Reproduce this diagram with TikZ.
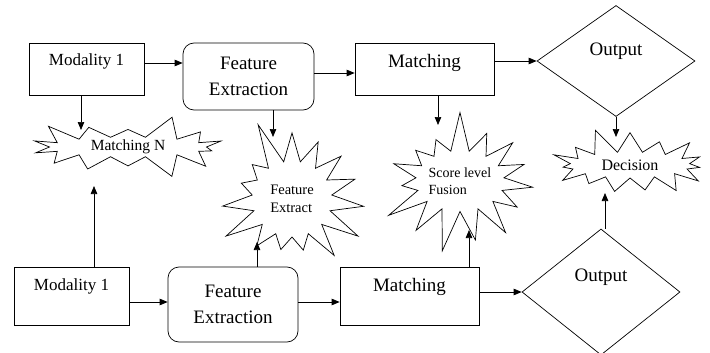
\documentclass[tikz,border=0pt]{standalone}
\usepackage{fontspec}
\setmainfont{Liberation Serif}
\usepackage{tikz}
\usetikzlibrary{shapes.geometric,shapes.symbols,arrows.meta,positioning,calc}

\begin{document}
\begin{tikzpicture}[
    x=1pt, y=-1pt,
    line width=0.7pt,
    modbox/.style={rectangle, draw, minimum width=115pt, inner sep=2pt, font=\fontsize{17}{20}\selectfont},
    featbox/.style={rectangle, draw, rounded corners=11pt, minimum width=131pt, align=center, font=\fontsize{19}{26}\selectfont},
    matchbox/.style={rectangle, draw, minimum width=139pt, inner sep=2pt, font=\fontsize{19}{22}\selectfont},
    outdiamond/.style={diamond, draw, minimum width=158pt, inner sep=1pt, font=\fontsize{19}{22}\selectfont},
    burst/.style={starburst, draw, fill=white, align=left, inner sep=0pt},
    arrow/.style={-{Triangle[length=8pt,width=6.5pt]}}
]
\useasboundingbox (0,0) rectangle (710,353);

% upper chain
\node[modbox, minimum height=52pt, text depth=18pt] (mod1) at (86.5,69) {Modality 1};
\node[featbox, minimum height=67pt] (fe1) at (248.5,76.5) {Feature\\Extraction};
\node[matchbox, minimum height=52pt, text depth=16pt] (match1) at (424.5,69) {Matching};
\node[outdiamond, minimum height=111pt, text depth=24pt] (out1) at (616,61) {Output};

% lower chain
\node[modbox, minimum height=58pt, text depth=22pt] (mod2) at (71.5,296) {Modality 1};
\node[featbox, minimum width=130pt, minimum height=75pt] (fe2) at (233,304.5) {Feature\\Extraction};
\node[matchbox, minimum height=58pt, text depth=22pt] (match2) at (409.5,296) {Matching};
\node[outdiamond, minimum height=126pt, text depth=34pt] (out2) at (601,292) {Output};

% fusion points
\node[burst, minimum width=205pt, minimum height=60pt, starburst points=14, starburst point height=24pt, random starburst=3,
      font=\fontsize{15.5}{18}\selectfont] (matchn) at (128,147) {Matching N};
\node[burst, minimum width=172pt, minimum height=168pt, starburst points=15, starburst point height=46pt, random starburst=5,
      font=\fontsize{14.5}{18}\selectfont] (fext) at (292,199) {Feature\\Extract};
\node[burst, minimum width=172pt, minimum height=145pt, starburst points=15, starburst point height=42pt, random starburst=7,
      font=\fontsize{14}{17}\selectfont] (fusion) at (460,181) {Score level\\Fusion};
\node[burst, minimum width=172pt, minimum height=78pt, starburst points=15, starburst point height=26pt, random starburst=11,
      font=\fontsize{16}{19}\selectfont] (decision) at (630,165) {Decision};

% connectors along the chains
\draw[arrow] ([yshift=6pt]mod1.east) -- ([yshift=6pt]mod1.east -| fe1.west);
\draw[arrow] ([yshift=3.5pt]fe1.east) -- ([yshift=3.5pt]fe1.east -| match1.west);
\draw[arrow] ([yshift=8pt]match1.east) -- (out1.west);
\draw[arrow] ([yshift=-6pt]mod2.east) -- ([yshift=-6pt]mod2.east -| fe2.west);
\draw[arrow] ([yshift=2.5pt]fe2.east) -- ([yshift=2.5pt]fe2.east -| match2.west);
\draw[arrow] ([yshift=4pt]match2.east) -- (out2.west);

% connectors into the fusion points
\draw[arrow] ([xshift=-5.5pt]mod1.south) -- ([xshift=-5.5pt,yshift=17pt]mod1.south |- matchn.center);
\draw[arrow] ([xshift=24.5pt]fe1.south) -- ([xshift=24.5pt,yshift=62pt]fe1.south |- fext.center);
\draw[arrow] ([xshift=13.5pt]match1.south) -- ([xshift=13.5pt,yshift=56pt]match1.south |- fusion.center);
\draw[arrow] (out1.south) -- ([yshift=28pt]out1.south |- decision.center);
\draw[arrow] ([xshift=22.5pt]mod2.north) -- ([xshift=22.5pt,yshift=-39pt]mod2.north |- matchn.center);
\draw[arrow] ([xshift=24pt]fe2.north) -- ([xshift=24pt,yshift=-43pt]fe2.north |- fext.center);
\draw[arrow] ([xshift=59.5pt]match2.north) -- ([xshift=59.5pt,yshift=-49pt]match2.north |- fusion.center);
\draw[arrow] ([xshift=4pt]out2.north) -- ([xshift=4pt,yshift=-28pt]out2.north |- decision.center);
\end{tikzpicture}
\end{document}
